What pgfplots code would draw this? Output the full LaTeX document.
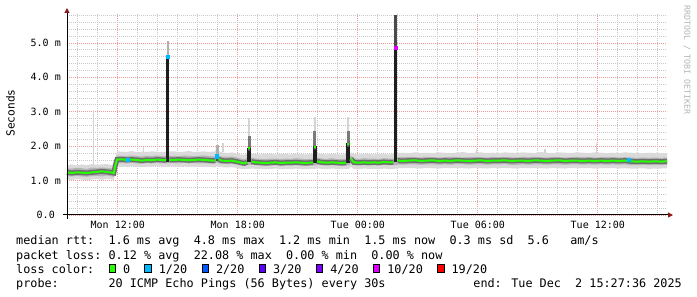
\documentclass[border=0pt]{standalone}
\usepackage{pgfplots}
\pgfplotsset{compat=1.18}
\usepackage{pgfplotstable}
\usepgfplotslibrary{fillbetween}
\usetikzlibrary{arrows.meta}
\usepackage{fontspec}
\setmainfont{DejaVu Sans Mono}
\definecolor{lcA}{HTML}{26FF00}
\definecolor{lcB}{HTML}{00B8FF}
\definecolor{lcC}{HTML}{0059FF}
\definecolor{lcD}{HTML}{5E00FF}
\definecolor{lcE}{HTML}{7E00FF}
\definecolor{lcF}{HTML}{DD00FF}
\definecolor{lcG}{HTML}{FF0000}
\definecolor{gridminor}{HTML}{C8C8C8}
\definecolor{gridmajor}{HTML}{F09A9A}
\definecolor{arrowred}{HTML}{8B1A1A}
\definecolor{smokeL}{HTML}{DADADA}
\definecolor{smokeM}{HTML}{B4B4B4}
\definecolor{corec}{HTML}{6E6E6E}
\definecolor{spkL}{HTML}{B0B0B0}
\definecolor{spkM}{HTML}{7A7A7A}
\definecolor{spkD}{HTML}{4A4A4A}
\definecolor{spkK}{HTML}{1E1E1E}
\definecolor{faint}{HTML}{D4D4D4}
\definecolor{wmgray}{HTML}{B4B4B4}

\pgfplotstableread{
t med lo2 lo1 hi1 hi2
9.46 1.24 1.03 1.13 1.36 1.45
9.70 1.22 1.02 1.12 1.35 1.47
9.95 1.24 1.04 1.14 1.37 1.44
10.20 1.23 1.03 1.12 1.36 1.47
10.45 1.22 1.01 1.11 1.34 1.45
10.70 1.24 1.03 1.13 1.38 1.48
10.95 1.25 1.05 1.14 1.37 1.46
11.20 1.27 1.02 1.12 1.38 1.47
11.45 1.25 1.05 1.15 1.37 1.48
11.62 1.24 1.04 1.13 1.36 1.46
11.80 1.22 1.02 1.11 1.35 1.44
11.88 1.45 1.18 1.30 1.56 1.68
11.96 1.61 1.40 1.50 1.72 1.85
12.20 1.62 1.41 1.51 1.72 1.84
12.45 1.60 1.40 1.50 1.71 1.83
12.70 1.61 1.42 1.52 1.73 1.86
12.95 1.60 1.40 1.50 1.71 1.82
13.20 1.58 1.39 1.49 1.70 1.84
13.45 1.60 1.41 1.51 1.72 1.83
13.70 1.59 1.40 1.50 1.71 1.85
13.95 1.61 1.42 1.52 1.73 1.84
14.20 1.60 1.40 1.50 1.71 1.83
14.42 1.59 1.40 1.50 1.72 1.84
14.44 nan 1.40 1.50 1.72 1.84
14.56 nan 1.40 1.50 1.72 1.84
14.58 1.60 1.41 1.51 1.72 1.85
14.80 1.60 1.41 1.51 1.72 1.85
15.05 1.61 1.40 1.50 1.71 1.83
15.30 1.60 1.42 1.52 1.73 1.84
15.55 1.59 1.40 1.50 1.72 1.86
15.80 1.60 1.41 1.51 1.71 1.83
16.05 1.61 1.40 1.50 1.72 1.84
16.30 1.60 1.41 1.51 1.73 1.85
16.55 1.59 1.40 1.50 1.71 1.83
16.75 1.58 1.39 1.49 1.70 1.84
16.88 1.58 1.40 1.50 1.71 1.85
16.90 nan 1.42 1.52 1.76 1.95
17.02 nan 1.42 1.52 1.76 1.95
17.04 1.62 1.40 1.50 1.72 1.86
17.20 1.58 1.39 1.49 1.70 1.82
17.45 1.57 1.38 1.48 1.69 1.80
17.70 1.58 1.39 1.49 1.70 1.82
17.95 1.55 1.37 1.47 1.67 1.79
18.15 1.52 1.34 1.45 1.64 1.76
18.32 1.50 1.33 1.44 1.62 1.75
18.46 1.53 1.34 1.45 1.65 1.78
18.48 nan 1.34 1.45 1.65 1.78
18.52 1.94 1.34 1.45 1.65 1.78
18.60 1.94 1.34 1.45 1.65 1.78
18.63 nan 1.35 1.46 1.66 1.78
18.68 1.55 1.35 1.46 1.66 1.78
18.90 1.53 1.34 1.45 1.64 1.77
19.15 1.52 1.34 1.44 1.63 1.76
19.40 1.51 1.33 1.43 1.62 1.78
19.65 1.52 1.34 1.44 1.64 1.77
19.90 1.53 1.35 1.45 1.64 1.76
20.15 1.51 1.33 1.43 1.63 1.78
20.40 1.52 1.34 1.44 1.64 1.77
20.65 1.52 1.33 1.44 1.63 1.76
20.90 1.53 1.35 1.45 1.65 1.78
21.15 1.52 1.34 1.44 1.64 1.77
21.40 1.51 1.33 1.43 1.62 1.76
21.62 1.52 1.34 1.44 1.63 1.77
21.76 1.52 1.34 1.44 1.64 1.78
21.78 nan 1.34 1.44 1.64 1.78
21.80 1.98 1.34 1.44 1.64 1.78
21.90 1.98 1.34 1.44 1.64 1.78
21.92 nan 1.36 1.46 1.66 1.79
21.96 1.56 1.36 1.46 1.66 1.79
22.20 1.53 1.34 1.45 1.64 1.77
22.45 1.52 1.33 1.44 1.63 1.76
22.70 1.53 1.35 1.45 1.65 1.78
22.95 1.52 1.34 1.44 1.63 1.77
23.20 1.51 1.33 1.43 1.62 1.76
23.42 1.52 1.34 1.44 1.64 1.77
23.44 nan 1.34 1.44 1.64 1.77
23.47 2.06 1.34 1.44 1.64 1.77
23.58 2.06 1.34 1.44 1.64 1.77
23.60 nan 1.38 1.48 1.70 1.80
23.66 1.64 1.40 1.50 1.72 1.82
23.80 1.53 1.34 1.45 1.64 1.77
24.05 1.52 1.33 1.44 1.63 1.76
24.30 1.53 1.35 1.45 1.65 1.78
24.55 1.52 1.34 1.44 1.64 1.77
24.80 1.53 1.34 1.45 1.64 1.76
25.05 1.52 1.33 1.44 1.63 1.78
25.30 1.54 1.35 1.46 1.65 1.77
25.55 1.53 1.34 1.45 1.64 1.76
25.78 1.53 1.34 1.45 1.64 1.77
25.82 nan 1.34 1.45 1.64 1.77
25.96 nan 1.36 1.46 1.67 1.80
26.00 1.58 1.37 1.47 1.68 1.80
26.25 1.57 1.36 1.46 1.68 1.81
26.55 1.58 1.37 1.47 1.69 1.80
26.85 1.59 1.36 1.47 1.68 1.82
27.15 1.57 1.35 1.46 1.67 1.80
27.45 1.58 1.37 1.47 1.69 1.81
27.75 1.59 1.36 1.47 1.68 1.80
28.05 1.57 1.35 1.46 1.67 1.82
28.35 1.58 1.37 1.47 1.68 1.81
28.65 1.57 1.36 1.46 1.69 1.80
28.95 1.59 1.37 1.48 1.68 1.81
29.25 1.58 1.36 1.47 1.67 1.83
29.55 1.57 1.35 1.46 1.68 1.80
29.85 1.58 1.37 1.47 1.69 1.81
30.15 1.59 1.36 1.47 1.68 1.82
30.45 1.57 1.35 1.46 1.67 1.80
30.75 1.58 1.37 1.47 1.69 1.81
31.05 1.58 1.36 1.47 1.68 1.80
31.35 1.59 1.37 1.48 1.69 1.82
31.65 1.57 1.36 1.46 1.68 1.81
31.95 1.58 1.35 1.46 1.67 1.80
32.25 1.58 1.37 1.47 1.69 1.82
32.55 1.57 1.36 1.46 1.68 1.81
32.85 1.59 1.37 1.47 1.69 1.80
33.15 1.58 1.36 1.47 1.68 1.83
33.45 1.57 1.35 1.46 1.67 1.81
33.75 1.58 1.37 1.47 1.69 1.80
34.05 1.59 1.36 1.47 1.68 1.82
34.35 1.57 1.35 1.46 1.67 1.81
34.65 1.58 1.37 1.47 1.68 1.80
34.95 1.58 1.36 1.47 1.69 1.82
35.25 1.57 1.36 1.46 1.68 1.81
35.55 1.58 1.37 1.47 1.69 1.80
35.85 1.57 1.35 1.46 1.67 1.82
36.15 1.58 1.36 1.47 1.68 1.81
36.45 1.57 1.36 1.46 1.68 1.80
36.75 1.58 1.37 1.47 1.69 1.81
37.05 1.57 1.35 1.46 1.67 1.80
37.35 1.58 1.36 1.47 1.68 1.82
37.65 1.56 1.35 1.45 1.67 1.81
37.95 1.55 1.35 1.45 1.66 1.80
38.25 1.56 1.36 1.46 1.67 1.79
38.55 1.55 1.34 1.45 1.66 1.81
38.85 1.56 1.35 1.45 1.67 1.80
39.15 1.55 1.35 1.45 1.66 1.79
39.46 1.56 1.36 1.46 1.67 1.80
}\smoke

\newcommand\legfont{\fontsize{11.8bp}{14bp}\selectfont}
\newcommand\tickfont{\fontsize{10bp}{12bp}\selectfont}
\newcommand\lbox[1]{\raisebox{1bp}{\setlength{\fboxsep}{0pt}\setlength{\fboxrule}{0.8bp}\fcolorbox{black}{#1}{\rule{0pt}{6.8bp}\rule{5.8bp}{0pt}}}}

\begin{document}
\begin{tikzpicture}
\begin{axis}[
  at={(67bp,82bp)}, anchor=south west, scale only axis,
  width=600bp, height=202bp,
  xmin=9.46, xmax=39.46, ymin=0, ymax=5.87,
  clip=false,
  axis line style={draw=none},
  xtick={12,18,24,30,36},
  xticklabels={Mon 12:00,Mon 18:00,Tue 00:00,Tue 06:00,Tue 12:00},
  minor xtick={10,11,13,14,15,16,17,19,20,21,22,23,25,26,27,28,29,31,32,33,34,35,37,38,39},
  ytick={0,1,2,3,4,5},
  yticklabels={0.0~~,1.0~m,2.0~m,3.0~m,4.0~m,5.0~m},
  minor ytick={0.2,0.4,0.6,0.8,1.2,1.4,1.6,1.8,2.2,2.4,2.6,2.8,3.2,3.4,3.6,3.8,4.2,4.4,4.6,4.8,5.2,5.4,5.6,5.8},
  major tick length=0pt, minor tick length=0pt,
  grid=both,
  major grid style={draw=gridmajor, line width=0.8bp, dash pattern=on 1bp off 1bp},
  minor grid style={draw=gridminor, line width=0.8bp, dash pattern=on 1bp off 1bp},
  xticklabel style={font=\tickfont, inner sep=0pt, anchor=north, yshift=-5.5bp},
  yticklabel style={font=\tickfont, inner sep=0pt, anchor=east, xshift=-6bp},
]
% smoke bands
\addplot[draw=none, name path=lotwo] table[x=t,y=lo2]{\smoke};
\addplot[draw=none, name path=hitwo] table[x=t,y=hi2]{\smoke};
\addplot[draw=none, name path=loone] table[x=t,y=lo1]{\smoke};
\addplot[draw=none, name path=hione] table[x=t,y=hi1]{\smoke};
\addplot[fill=smokeL, draw=none] fill between[of=hitwo and lotwo];
\addplot[fill=smokeM, draw=none] fill between[of=hione and loone];
% faint single spikes
\addplot[draw=faint, line width=1.2bp] coordinates {(10.78,1.45) (10.78,3.05)};
\addplot[draw=faint, line width=1.2bp] coordinates {(13.28,1.84) (13.28,1.97)};
\addplot[draw=faint, line width=1.2bp] coordinates {(17.26,1.82) (17.26,2.10)};
\addplot[draw=faint, line width=1.2bp] coordinates {(29.95,1.81) (29.95,1.92)};
\addplot[draw=faint, line width=1.2bp] coordinates {(33.36,1.81) (33.36,1.92)};
\addplot[draw=faint, line width=1.2bp] coordinates {(35.94,1.80) (35.94,2.10)};
% spike columns
\addplot[draw=spkL, line width=2.5bp] coordinates {(14.50,1.8) (14.50,5.05)};
\addplot[draw=spkK, line width=3bp] coordinates {(14.49,1.55) (14.49,4.6)};
\addplot[draw=spkL, line width=3bp] coordinates {(16.96,1.70) (16.96,2.03)};
\addplot[draw=spkD, line width=3bp] coordinates {(16.96,1.58) (16.96,1.72)};
\addplot[draw=faint, line width=2bp] coordinates {(18.57,2.2) (18.57,2.82)};
\addplot[draw=spkM, line width=3bp] coordinates {(18.56,1.9) (18.56,2.3)};
\addplot[draw=spkK, line width=3.5bp] coordinates {(18.55,1.55) (18.55,1.95)};
\addplot[draw=faint, line width=2bp] coordinates {(21.86,2.3) (21.86,2.85)};
\addplot[draw=spkM, line width=3bp] coordinates {(21.85,1.9) (21.85,2.45)};
\addplot[draw=spkK, line width=4bp] coordinates {(21.84,1.5) (21.84,2.0)};
\addplot[draw=faint, line width=2bp] coordinates {(23.53,2.3) (23.53,2.85)};
\addplot[draw=spkM, line width=3bp] coordinates {(23.52,1.95) (23.52,2.45)};
\addplot[draw=spkK, line width=4bp] coordinates {(23.51,1.5) (23.51,2.08)};
\addplot[draw=spkD, line width=2.5bp] coordinates {(25.89,1.6) (25.89,5.81)};
\addplot[draw=spkK, line width=2.5bp] coordinates {(25.89,1.55) (25.89,4.85)};
% median
\addplot[draw=corec, line width=5bp, unbounded coords=jump] table[x=t,y=med]{\smoke};
\addplot[draw=lcA, line width=2bp, unbounded coords=jump] table[x=t,y=med]{\smoke};
\addplot[only marks, mark=square*, mark size=1.6bp, color=lcB] coordinates {(12.5,1.60) (14.49,4.6) (16.96,1.71) (37.55,1.61)};
\addplot[only marks, mark=square*, mark size=1.6bp, color=lcF] coordinates {(25.89,4.85)};
\end{axis}
% axis lines with arrows (axis box: x 67..667, y 82..284 in bp)
\draw[line width=1bp, -{Triangle[length=5bp,width=5bp,color=arrowred]}] (63bp,82bp) -- (673bp,82bp);
\draw[line width=1bp, -{Triangle[length=5bp,width=5bp,color=arrowred]}] (67bp,78bp) -- (67bp,289bp);
\node[rotate=90, font=\fontsize{11.2bp}{13bp}\selectfont, inner sep=0pt] at (10.5bp,184bp) {Seconds};
\node[rotate=-90, font=\fontsize{8.3bp}{10bp}\selectfont, text=wmgray, inner sep=0pt] at (687bp,237bp) {RRDTOOL / TOBI OETIKER};
\node[anchor=base west, inner sep=0pt, font=\legfont] at (16bp,52bp) {median rtt:~~1.6 ms avg~~4.8 ms max~~1.2 ms min~~1.5 ms now~~0.3 ms sd~~5.6~~~am/s};
\node[anchor=base west, inner sep=0pt, font=\legfont] at (16bp,38bp) {packet loss:~0.12 \% avg~~22.08 \% max~~0.00 \% min~~0.00 \% now};
\node[anchor=base west, inner sep=0pt, font=\legfont] at (16bp,24bp) {loss color:~~\lbox{lcA}~0~~\lbox{lcB}~1/20~~\lbox{lcC}~2/20~~\lbox{lcD}~3/20~~\lbox{lcE}~4/20~~\lbox{lcF}~10/20~~\lbox{lcG}~19/20};
\node[anchor=base west, inner sep=0pt, font=\legfont] at (16bp,10bp) {probe:~~~~~~~20 ICMP Echo Pings (56 Bytes) every 30s};
\node[anchor=base east, inner sep=0pt, font=\legfont] at (682bp,10bp) {end: Tue Dec~~2 15:27:36 2025};
\pgfresetboundingbox
\path[use as bounding box] (0bp,0bp) rectangle (697bp,297bp);
\end{tikzpicture}
\end{document}
